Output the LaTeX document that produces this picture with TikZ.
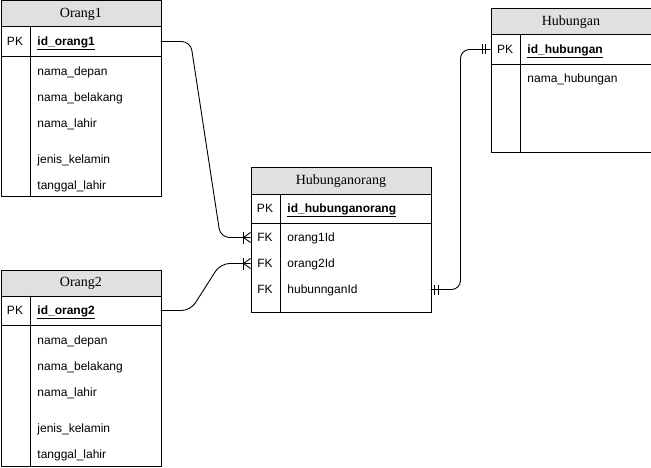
\documentclass[tikz,border=0pt]{standalone}
\usepackage{fontspec}
\setmainfont{Liberation Serif}
\newfontfamily\fieldfont{Liberation Sans}
\begin{document}
\begin{tikzpicture}[x=1pt,y=-1pt,line width=0.9pt,
  ent/.style={draw=black,fill=white,anchor=north west,inner sep=0pt},
  hdr/.style={draw=black,fill=black!12,anchor=north west,inner sep=0pt,font=\fontsize{14}{16}\selectfont},
  fld/.style={anchor=base west,inner sep=0pt,font=\fieldfont\fontsize{12}{14}\selectfont},
  key/.style={anchor=base,inner sep=0pt,font=\fieldfont\fontsize{12}{14}\selectfont},
  pkf/.style={anchor=base west,inner sep=0pt,font=\fieldfont\bfseries\fontsize{12}{14}\selectfont},
  conn/.style={draw=black,line width=0.9pt,rounded corners=9pt}]
\useasboundingbox (0,0) rectangle (651,468);

% ---------- Orang1 ----------
\node[ent,minimum width=160pt,minimum height=196pt] (o1) at (0.5,0.5) {};
\node[hdr,minimum width=160pt,minimum height=26pt] (o1h) at (0.5,0.5) {Orang1};
\draw (0.5,56) -- (160.5,56);
\draw (30,26.5) -- (30,196.5);
\node[key] (o1k) at (15,45.5) {PK};
\node[pkf] (o1pk) at (37,45.5) {\underline{id\_orang1}};
\node[fld] (o1a) at (37,75.5) {nama\_depan};
\node[fld] (o1b) at (37,101.5) {nama\_belakang};
\node[fld] (o1c) at (37,127.5) {nama\_lahir};
\node[fld] (o1d) at (37,163.5) {jenis\_kelamin};
\node[fld] (o1e) at (37,189.5) {tanggal\_lahir};
\coordinate (o1out) at (160.5,41.5);

% ---------- Orang2 ----------
\node[ent,minimum width=160pt,minimum height=196pt] (o2) at (0.5,269.5) {};
\node[hdr,minimum width=160pt,minimum height=26pt] (o2h) at (0.5,269.5) {Orang2};
\draw (0.5,325) -- (160.5,325);
\draw (30,295.5) -- (30,465.5);
\node[key] (o2k) at (15,314.5) {PK};
\node[pkf] (o2pk) at (37,314.5) {\underline{id\_orang2}};
\node[fld] (o2a) at (37,344.5) {nama\_depan};
\node[fld] (o2b) at (37,370.5) {nama\_belakang};
\node[fld] (o2c) at (37,396.5) {nama\_lahir};
\node[fld] (o2d) at (37,432.5) {jenis\_kelamin};
\node[fld] (o2e) at (37,458.5) {tanggal\_lahir};
\coordinate (o2out) at (160.5,310.5);

% ---------- Hubunganorang ----------
\node[ent,minimum width=180pt,minimum height=144pt] (ho) at (250.5,167.5) {};
\node[hdr,minimum width=180pt,minimum height=27pt] (hoh) at (250.5,167.5) {Hubunganorang};
\draw (250.5,223.5) -- (430.5,223.5);
\draw (280,194.5) -- (280,311.5);
\node[key] (hok) at (265,212.5) {PK};
\node[pkf] (hopk) at (287,212.5) {\underline{id\_hubunganorang}};
\node[key] (hok1) at (265,241.5) {FK};
\node[fld] (hof1) at (287,241.5) {orang1Id};
\node[key] (hok2) at (265,267.5) {FK};
\node[fld] (hof2) at (287,267.5) {orang2Id};
\node[key] (hok3) at (265,293.5) {FK};
\node[fld] (hof3) at (287,293.5) {hubunnganId};
\coordinate (hoin1) at (250.5,237.5);
\coordinate (hoin2) at (250.5,263.5);
\coordinate (hoout) at (430.5,289.5);

% ---------- Hubungan ----------
\node[ent,minimum width=160pt,minimum height=144pt] (hb) at (490.5,8.5) {};
\node[hdr,minimum width=160pt,minimum height=26pt] (hbh) at (490.5,8.5) {Hubungan};
\draw (490.5,64.5) -- (650.5,64.5);
\draw (520,34.5) -- (520,152.5);
\node[key] (hbk) at (505,53.5) {PK};
\node[pkf] (hbpk) at (527,53.5) {\underline{id\_hubungan}};
\node[fld] (hba) at (527,82.5) {nama\_hubungan};
\coordinate (hbin) at (490.5,49.5);

% ---------- connectors ----------
\draw[conn] (o1out) -- ++(30,0) -- ([xshift=-30pt]hoin1) -- (hoin1);
\draw[conn] (o2out) -- ++(30,0) -- ([xshift=-30pt]hoin2) -- (hoin2);
\draw[conn] (hoout) -- ++(30,0) |- (hbin);

% crow's feet (one-to-many)
\foreach \c in {hoin1,hoin2}{
  \draw ([xshift=-7pt]\c) -- ([yshift=-5pt]\c);
  \draw ([xshift=-7pt]\c) -- ([yshift=5pt]\c);
  \draw ([xshift=-7.5pt,yshift=-6pt]\c) -- ([xshift=-7.5pt,yshift=6pt]\c);
}
% mandatory one
\draw ([xshift=4pt,yshift=-5pt]hoout) -- ([xshift=4pt,yshift=5pt]hoout);
\draw ([xshift=7.5pt,yshift=-5pt]hoout) -- ([xshift=7.5pt,yshift=5pt]hoout);
\draw ([xshift=-5pt,yshift=-5pt]hbin) -- ([xshift=-5pt,yshift=5pt]hbin);
\draw ([xshift=-8.5pt,yshift=-5pt]hbin) -- ([xshift=-8.5pt,yshift=5pt]hbin);
\end{tikzpicture}
\end{document}
